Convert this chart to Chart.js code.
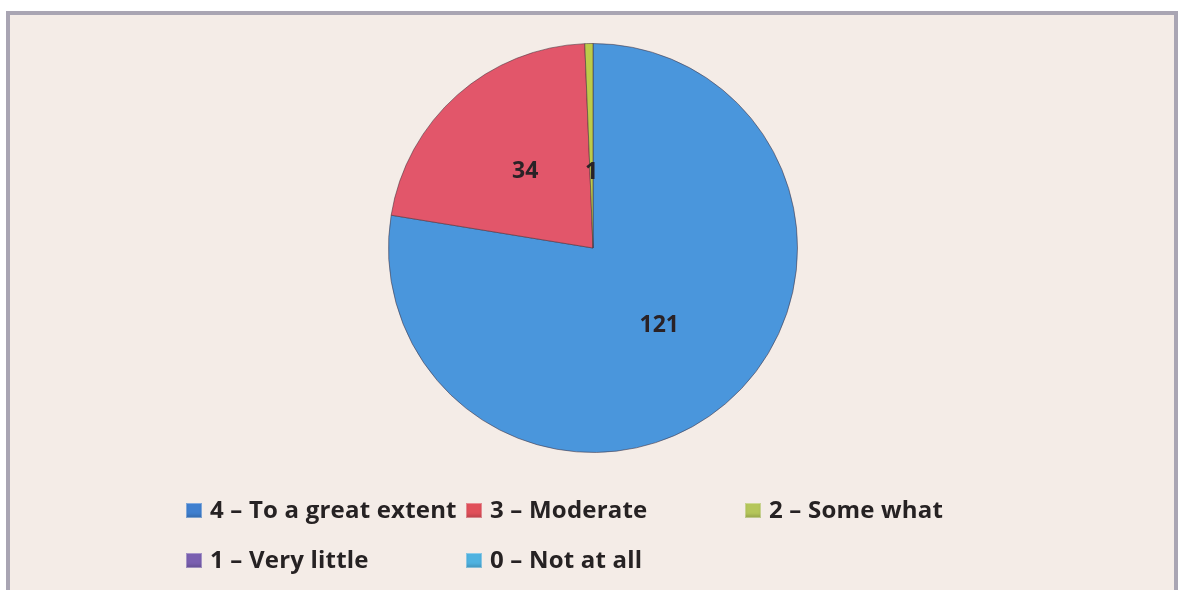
<!DOCTYPE html>
<html>
<head>
<meta charset="utf-8">
<script src="https://cdn.jsdelivr.net/npm/chart.js@4"></script>
<style>
  html, body { margin: 0; padding: 0; background: #ffffff; }
  body { width: 1182px; height: 590px; position: relative; overflow: hidden; font-family: "Open Sans", Lato, sans-serif; }
  #card {
    position: absolute; left: 6px; top: 11px; width: 1164px; height: 600px;
    background: #f4ece7; border: 4px solid #a9a5b3; border-bottom: none;
  }
  #wrap { position: absolute; left: 0; top: 0; width: 1182px; height: 590px; }
  .leg { position: absolute; font-weight: 700; font-size: 24px; letter-spacing: 0.2px; color: #262223; white-space: nowrap; line-height: 26px; }
  .leg span.box { display: inline-block; width: 16px; height: 15px; margin-right: 8px; vertical-align: baseline;
    box-shadow: inset 0 0 0 1px rgba(255,255,255,0.35), inset 0 -3px 3px rgba(0,0,0,0.15); }
</style>
</head>
<body>
<div id="card"></div>
<div id="wrap"><canvas id="pie"></canvas></div>
<div id="legend"></div>
<script>
// Daten
const categories = ['4 – To a great extent', '3 – Moderate', '2 – Some what', '1 – Very little', '0 – Not at all'];
const responses = [121, 34, 1, 0, 0];
const sliceColors = ['#4a96dc', '#e2566a', '#bccb4a', '#8064a2', '#4bacc6'];
const markerColors = ['#3f7fcf', '#e0505a', '#b5c65a', '#7a5fb0', '#4fb2e0'];

// Datenbeschriftungen in die Segmente schreiben
const sliceLabels = {
    id: 'sliceLabels',
    afterDatasetsDraw(chart) {
        const ctx = chart.ctx;
        const meta = chart.getDatasetMeta(0);
        ctx.save();
        ctx.font = 'bold 23px "Open Sans", Lato, sans-serif';
        ctx.fillStyle = '#2a2226';
        ctx.textAlign = 'center';
        ctx.textBaseline = 'middle';
        meta.data.forEach((arc, i) => {
            if (!responses[i]) return;
            const span = arc.endAngle - arc.startAngle;
            // schmale Segmente: Beschriftung weiter innen
            const r = arc.outerRadius * (span < 0.2 ? 0.37 : 0.5);
            const mid = (arc.startAngle + arc.endAngle) / 2;
            ctx.fillText(String(responses[i]), arc.x + Math.cos(mid) * r, arc.y + Math.sin(mid) * r);
        });
        ctx.restore();
    }
};

new Chart(document.getElementById('pie'), {
    type: 'pie',
    data: {
        labels: categories,
        datasets: [{
            data: responses,
            backgroundColor: sliceColors,
            borderColor: 'rgba(70,50,60,0.55)',
            borderWidth: 1,
        }]
    },
    options: {
        responsive: true,
        maintainAspectRatio: false,
        animation: false,
        layout: { padding: { left: 388, right: 384, top: 43, bottom: 137 } },
        plugins: { legend: { display: false }, tooltip: { enabled: false } }
    },
    plugins: [sliceLabels]
});

// Legende in Spalten wie im Original
const legendPos = [[186, 496], [466, 496], [745, 496], [186, 546], [466, 546]];
const legend = document.getElementById('legend');
categories.forEach((c, i) => {
    const d = document.createElement('div');
    d.className = 'leg';
    d.style.left = legendPos[i][0] + 'px';
    d.style.top = legendPos[i][1] + 'px';
    d.innerHTML = '<span class="box" style="background:' + markerColors[i] + '"></span>' + c;
    legend.appendChild(d);
});
</script>
</body>
</html>
